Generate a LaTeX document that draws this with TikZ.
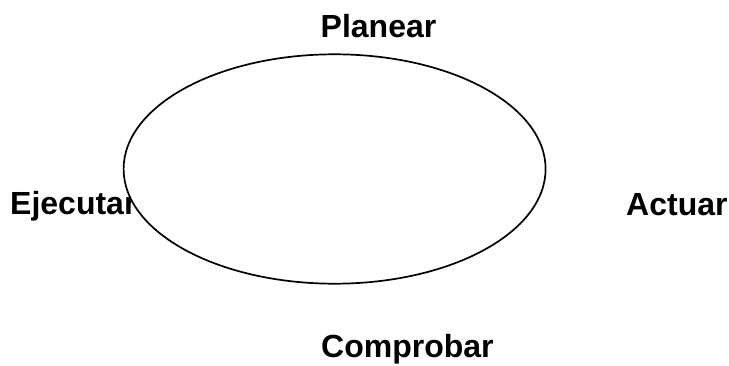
\documentclass[tikz,border=0pt]{standalone}
\usepackage{fontspec}
\setmainfont{Liberation Sans}
\begin{document}
\begin{tikzpicture}[x=1pt,y=1pt,
  lbl/.style={anchor=base west,inner sep=0pt,font=\fontsize{32}{38}\selectfont\bfseries}]
\useasboundingbox (0,0) rectangle (729,365);
\node[lbl] (plan) at (320.5,327.5) {Planear};
\node[lbl] (ejec) at (10,151) {Ejecutar};
\node[lbl] (act) at (626,149.5) {Actuar};
\node[lbl] (comp) at (321,7.5) {Comprobar};
\draw[line width=1.7pt,fill=white] (334.6,196) ellipse [x radius=211,y radius=114.7];
\end{tikzpicture}
\end{document}
